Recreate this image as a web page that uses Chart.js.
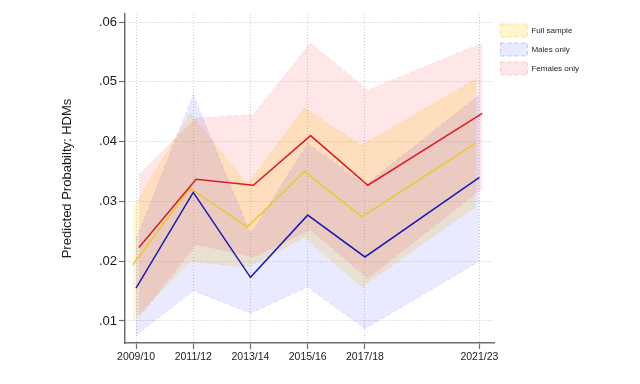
<!DOCTYPE html>
<html>
<head>
<meta charset="utf-8">
<script src="https://cdn.jsdelivr.net/npm/chart.js@4.4.1/dist/chart.umd.min.js"></script>
<style>
  html, body { margin: 0; padding: 0; background: #ffffff; }
  #wrap { width: 640px; height: 384px; }
</style>
</head>
<body>
<div id="wrap"><canvas id="c" width="640" height="384"></canvas></div>
<script>
// ---- data ----
const years = [2009, 2011, 2013, 2015, 2017, 2021];
const yearLabels = ['2009/10', '2011/12', '2013/14', '2015/16', '2017/18', '2021/23'];
const yTickValues = [0.01, 0.02, 0.03, 0.04, 0.05, 0.06];

const fullEst = [0.0194, 0.0322, 0.0257, 0.0350, 0.0274, 0.0398];
const fullLo  = [0.0101, 0.0200, 0.0190, 0.0240, 0.0157, 0.0292];
const fullHi  = [0.0288, 0.0447, 0.0329, 0.0456, 0.0394, 0.0505];

const maleEst = [0.0155, 0.0315, 0.0173, 0.0277, 0.0207, 0.0340];
const maleLo  = [0.0076, 0.0151, 0.0113, 0.0157, 0.0087, 0.0200];
const maleHi  = [0.0236, 0.0478, 0.0245, 0.0397, 0.0327, 0.0478];

const femEst  = [0.0223, 0.0337, 0.0327, 0.0410, 0.0327, 0.0447];
const femLo   = [0.0106, 0.0228, 0.0207, 0.0252, 0.0171, 0.0322];
const femHi   = [0.0344, 0.0440, 0.0445, 0.0565, 0.0486, 0.0565];

const seriesNames = ['Full sample', 'Males only', 'Females only'];
const yTitle = 'Predicted Probabilty: HDMs';

// small horizontal dodge per series (in years)
const dodge = [-0.11, 0, 0.1];

// ---- helpers ----
const pts = (vals, d) => vals.map((v, i) => ({ x: years[i] + d, y: v }));
const FONT = "'Liberation Sans', Arial, Helvetica, sans-serif";

const bandStyle = [
  { fill: 'rgba(255,200,0,0.19)', border: 'rgba(245,200,40,0.22)' },
  { fill: 'rgba(40,40,255,0.10)', border: 'rgba(90,90,240,0.16)' },
  { fill: 'rgba(255,40,40,0.11)', border: 'rgba(245,120,120,0.18)' }
];
const legendBorder = ['rgba(245,200,40,0.45)', 'rgba(90,90,240,0.3)', 'rgba(245,120,120,0.35)'];
const lineColors = ['#efc62b', '#1c1cb4', '#dc1c24'];

const bands = [[fullHi, fullLo], [maleHi, maleLo], [femHi, femLo]];
const ests = [fullEst, maleEst, femEst];

const datasets = [];
bands.forEach((b, k) => {
  datasets.push({
    label: seriesNames[k],
    data: pts(b[0], dodge[k]),
    fill: '+1',
    backgroundColor: bandStyle[k].fill,
    borderColor: bandStyle[k].border,
    borderWidth: 1,
    borderDash: [4, 3],
    pointRadius: 0,
    tension: 0,
    order: 10 - k
  });
  datasets.push({
    label: '',
    data: pts(b[1], dodge[k]),
    fill: false,
    backgroundColor: bandStyle[k].fill,
    borderColor: bandStyle[k].border,
    borderWidth: 1,
    borderDash: [4, 3],
    pointRadius: 0,
    tension: 0,
    order: 10 - k
  });
});
ests.forEach((e, k) => {
  datasets.push({
    label: '',
    data: pts(e, dodge[k]),
    fill: false,
    borderColor: lineColors[k],
    borderWidth: 1.5,
    pointRadius: 0,
    tension: 0,
    order: 3 - k
  });
});

const axisColor = '#6f6f6f';
const gridColor = '#c9c9c9';

new Chart(document.getElementById('c'), {
  type: 'line',
  data: { datasets },
  options: {
    responsive: false,
    animation: false,
    devicePixelRatio: 1,
    layout: { padding: { left: 56, top: 14, right: 51, bottom: 0 } },
    plugins: {
      tooltip: { enabled: false },
      legend: {
        display: true,
        position: 'right',
        align: 'start',
        title: { display: true, text: '', font: { size: 1, lineHeight: 1 }, padding: { top: 1.5, bottom: 1.5 } },
        labels: {
          filter: (item) => item.text !== '',
          sort: (a, b) => a.datasetIndex - b.datasetIndex,
          generateLabels: (chart) => {
            const items = Chart.defaults.plugins.legend.labels.generateLabels(chart);
            items.forEach(it => {
              const k = seriesNames.indexOf(it.text);
              if (k >= 0) { it.strokeStyle = legendBorder[k]; }
            });
            return items;
          },
          boxWidth: 27,
          boxHeight: 13,
          padding: 6,
          color: '#222222',
          font: { family: FONT, size: 8 }
        }
      }
    },
    scales: {
      x: {
        type: 'linear',
        min: 2008.615,
        max: 2021.525,
        afterBuildTicks: (axis) => { axis.ticks = years.map(v => ({ value: v })); },
        afterFit: (axis) => { axis.height = 41; },
        ticks: {
          autoSkip: false,
          maxRotation: 0,
          padding: 2,
          color: '#1a1a1a',
          font: { family: FONT, size: 10.5 },
          callback: (v) => { const i = years.indexOf(v); return i >= 0 ? yearLabels[i] : ''; }
        },
        grid: {
          color: gridColor,
          lineWidth: 1,
          drawTicks: true,
          tickLength: 6,
          tickColor: axisColor,
          tickWidth: 1.2
        },
        border: { display: true, color: axisColor, width: 1.5, dash: [1, 2] }
      },
      y: {
        min: 0.00631,
        max: 0.06134,
        afterBuildTicks: (axis) => { axis.ticks = yTickValues.map(v => ({ value: v })); },
        afterFit: (axis) => { axis.width = 69; },
        ticks: {
          padding: 2,
          color: '#1a1a1a',
          font: { family: FONT, size: 13 },
          callback: (v) => v.toFixed(2).replace(/^0/, '')
        },
        title: {
          display: true,
          text: yTitle,
          color: '#1a1a1a',
          font: { family: FONT, size: 13 },
          padding: { top: 4, bottom: 4 }
        },
        grid: {
          color: gridColor,
          lineWidth: 1,
          drawTicks: true,
          tickLength: 6,
          tickColor: axisColor,
          tickWidth: 1.2
        },
        border: { display: true, color: axisColor, width: 1.5, dash: [1, 2] }
      }
    }
  }
});
</script>
</body>
</html>
